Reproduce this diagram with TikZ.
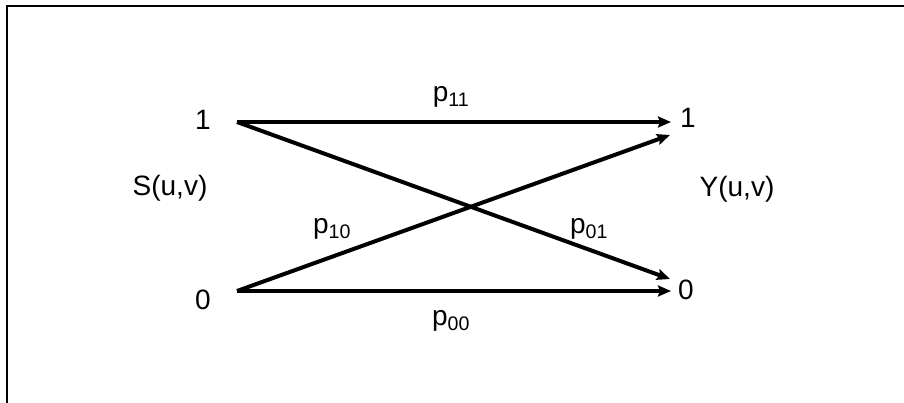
\documentclass[tikz,border=0pt]{standalone}
\usepackage{fontspec}
\setmainfont{Liberation Sans}
\usetikzlibrary{arrows.meta}
\begin{document}
\begin{tikzpicture}[x=1pt,y=-1pt,
  lbl/.style={inner sep=0pt,font=\fontsize{28}{32}\selectfont},
  chan/.style={line width=4pt,-{Stealth[length=13pt,width=11pt,inset=2pt]}},
  frame/.style={line width=2pt}]
\useasboundingbox (0,0) rectangle (904,403);
% frame (top and left edges)
\draw[frame] (7,403) -- (7,6) -- (904,6);
% input and output symbols
\node[lbl] (s1) at (203,120) {1};
\node[lbl] (s0) at (203,300) {0};
\node[lbl] (y1) at (688,118) {1};
\node[lbl] (y0) at (686,290) {0};
\node[lbl] (S) at (170,188) {S(u,v)};
\node[lbl] (Y) at (737,189) {Y(u,v)};
% line end points
\coordinate (a1) at (237,122);
\coordinate (a0) at (237,291);
\coordinate (b1) at (671,122);
\coordinate (b1x) at (670,135);
\coordinate (b0x) at (670,279);
\coordinate (b0) at (671,291);
% transition probabilities
\node[lbl] (p11) at (451,97) {p\textsubscript{11}};
\node[lbl] (p10) at (332,229) {p\textsubscript{10}};
\node[lbl] (p01) at (589,229) {p\textsubscript{01}};
\node[lbl] (p00) at (451,321) {p\textsubscript{00}};
% channel transitions
\draw[chan] (a1) -- (b1);
\draw[chan] (a1) -- (b0x);
\draw[chan] (a0) -- (b1x);
\draw[chan] (a0) -- (b0);
\end{tikzpicture}
\end{document}
